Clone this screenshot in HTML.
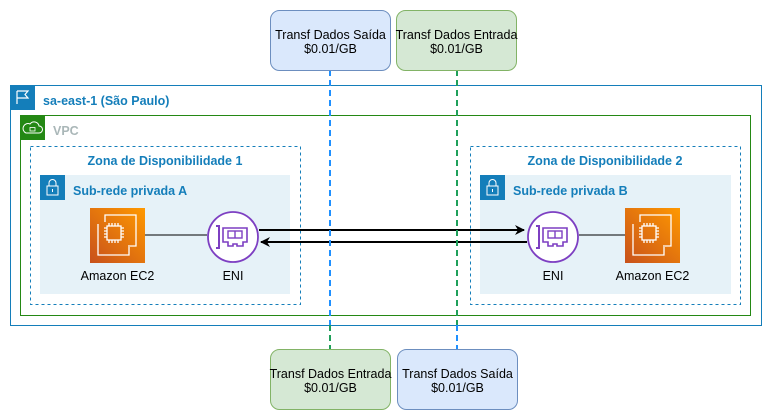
<!DOCTYPE html>
<html><head><meta charset="utf-8"><style>
html,body{margin:0;padding:0;background:#fff;width:771px;height:420px;overflow:hidden}
text{font-family:"Liberation Sans",sans-serif}
</style></head><body>
<svg width="771" height="420" viewBox="0 0 771 420" xmlns="http://www.w3.org/2000/svg">
<defs>
<marker id="ah" markerWidth="10" markerHeight="10" refX="9" refY="5" orient="auto" markerUnits="userSpaceOnUse">
<path d="M0,0 L10,5 L0,10 L3,5 Z" fill="#000"/></marker>
<linearGradient id="ec2" x1="0" y1="1" x2="1" y2="0"><stop offset="0" stop-color="#c8511b"/><stop offset="1" stop-color="#ff9900"/></linearGradient>
</defs>
<!-- region -->
<rect x="10.5" y="85.5" width="751" height="240" fill="#fff" stroke="#147eba"/>
<rect x="10" y="85" width="25" height="25" fill="#147eba"/>
<path d="M17,104 V91 M17,91 H28 L25,94.5 L28,98 H17" fill="none" stroke="#fff" stroke-width="1.2"/>
<text x="43" y="105" font-size="12.5" font-weight="bold" fill="#147eba">sa-east-1 (São Paulo)</text>
<!-- vpc -->
<rect x="20.5" y="115.5" width="730" height="200" fill="#fff" stroke="#248814"/>
<rect x="20" y="115" width="25" height="25" fill="#248814"/>
<path d="M26,133 h13 a3.5,3.5 0 0 0 0,-7 a5,5 0 0 0 -9,-2 a3.5,3.5 0 0 0 -4,9 z" fill="none" stroke="#fff" stroke-width="1"/>
<rect x="30" y="127.5" width="5" height="3.5" fill="none" stroke="#fff" stroke-width="0.8"/>
<text x="53" y="135" font-size="12.5" font-weight="bold" fill="#aab7b8">VPC</text>
<!-- AZ -->
<rect x="30.5" y="146.5" width="270" height="158" fill="none" stroke="#147eba" stroke-dasharray="3,3"/>
<rect x="470.5" y="146.5" width="270" height="158" fill="none" stroke="#147eba" stroke-dasharray="3,3"/>
<text x="165" y="165" font-size="12.5" font-weight="bold" fill="#147eba" text-anchor="middle">Zona de Disponibilidade 1</text>
<text x="605" y="165" font-size="12.5" font-weight="bold" fill="#147eba" text-anchor="middle">Zona de Disponibilidade 2</text>
<!-- subnets -->
<rect x="40" y="175" width="250" height="119" fill="#e6f2f8"/>
<rect x="480" y="175" width="251" height="119" fill="#e6f2f8"/>
<rect x="40" y="175" width="25" height="25" fill="#147eba"/>
<rect x="480" y="175" width="25" height="25" fill="#147eba"/>
<g fill="none" stroke="#fff" stroke-width="1">
<rect x="47" y="186" width="11" height="9"/><path d="M49,186 v-3 a3.5,3.5 0 0 1 7,0 v3"/><path d="M52.5,189 v3"/>
<rect x="487" y="186" width="11" height="9"/><path d="M489,186 v-3 a3.5,3.5 0 0 1 7,0 v3"/><path d="M492.5,189 v3"/>
</g>
<text x="73" y="195" font-size="12.5" font-weight="bold" fill="#147eba">Sub-rede privada A</text>
<text x="513" y="195" font-size="12.5" font-weight="bold" fill="#147eba">Sub-rede privada B</text>
<!-- connectors -->
<line x1="145" y1="235" x2="207" y2="235" stroke="#000"/>
<line x1="579" y1="235" x2="625" y2="235" stroke="#000"/>
<line x1="259" y1="230" x2="524" y2="230" stroke="#000" stroke-width="2" marker-end="url(#ah)"/>
<line x1="527" y1="242" x2="261" y2="242" stroke="#000" stroke-width="2" marker-end="url(#ah)"/>
<!-- EC2 -->
<g id="ec">
<rect x="90" y="208" width="55" height="55" fill="url(#ec2)"/>
<g fill="none" stroke="#fff" stroke-width="1.3">
<path d="M98,224 v31 h31 v-8"/><path d="M105,222 v-7 h31 v31 h-8"/>
<rect x="107" y="226" width="14" height="14"/>
<path d="M109,223v3M112,223v3M115,223v3M118,223v3M109,240v3M112,240v3M115,240v3M118,240v3M104,228h3M104,231h3M104,234h3M104,237h3M121,228h3M121,231h3M121,234h3M121,237h3"/>
</g></g>
<use href="#ec" x="535" y="0"/>
<text x="117.5" y="280" font-size="12.5" fill="#000" text-anchor="middle">Amazon EC2</text>
<text x="652.5" y="280" font-size="12.5" fill="#000" text-anchor="middle">Amazon EC2</text>
<!-- ENI -->
<g id="eni" fill="none" stroke="#7d3fc2" stroke-width="2">
<circle cx="233" cy="237" r="25" fill="#fff" stroke-width="1.8"/>
<path d="M216,226 h3 v22 h-3"/>
<path d="M223,228 h24 v14 h-4 v4 h-6 v-2 h-4 v2 h-5 v-4 h-5 z" stroke-width="1.6"/>
<rect x="228" y="231" width="14" height="7" stroke-width="1.4"/><path d="M235,231v7" stroke-width="1.4"/>
</g>
<use href="#eni" x="320" y="0"/>
<text x="233" y="280" font-size="12.5" fill="#000" text-anchor="middle">ENI</text>
<text x="553" y="280" font-size="12.5" fill="#000" text-anchor="middle">ENI</text>
<!-- dashed lines -->
<line x1="330" y1="70" x2="330" y2="325" stroke="#1e90ff" stroke-width="2" stroke-dasharray="6,4"/>
<line x1="330" y1="325" x2="330" y2="349" stroke="#1fa05a" stroke-width="2" stroke-dasharray="6,4"/>
<line x1="457" y1="70" x2="457" y2="325" stroke="#1fa05a" stroke-width="2" stroke-dasharray="6,4"/>
<line x1="457" y1="325" x2="457" y2="349" stroke="#1e90ff" stroke-width="2" stroke-dasharray="6,4"/>
<!-- cost boxes -->
<g font-size="12.5" text-anchor="middle" fill="#000">
<rect x="270.5" y="10.5" width="120" height="60" rx="9" fill="#dae8fc" stroke="#6c8ebf"/>
<text x="330.5" y="39">Transf Dados Saída</text><text x="330.5" y="53">$0.01/GB</text>
<rect x="396.5" y="10.5" width="120" height="60" rx="9" fill="#d5e8d4" stroke="#82b366"/>
<text x="456.5" y="39">Transf Dados Entrada</text><text x="456.5" y="53">$0.01/GB</text>
<rect x="270.5" y="349.5" width="120" height="60" rx="9" fill="#d5e8d4" stroke="#82b366"/>
<text x="330.5" y="378">Transf Dados Entrada</text><text x="330.5" y="392">$0.01/GB</text>
<rect x="397.5" y="349.5" width="120" height="60" rx="9" fill="#dae8fc" stroke="#6c8ebf"/>
<text x="457.5" y="378">Transf Dados Saída</text><text x="457.5" y="392">$0.01/GB</text>
</g>
</svg>
</body></html>
